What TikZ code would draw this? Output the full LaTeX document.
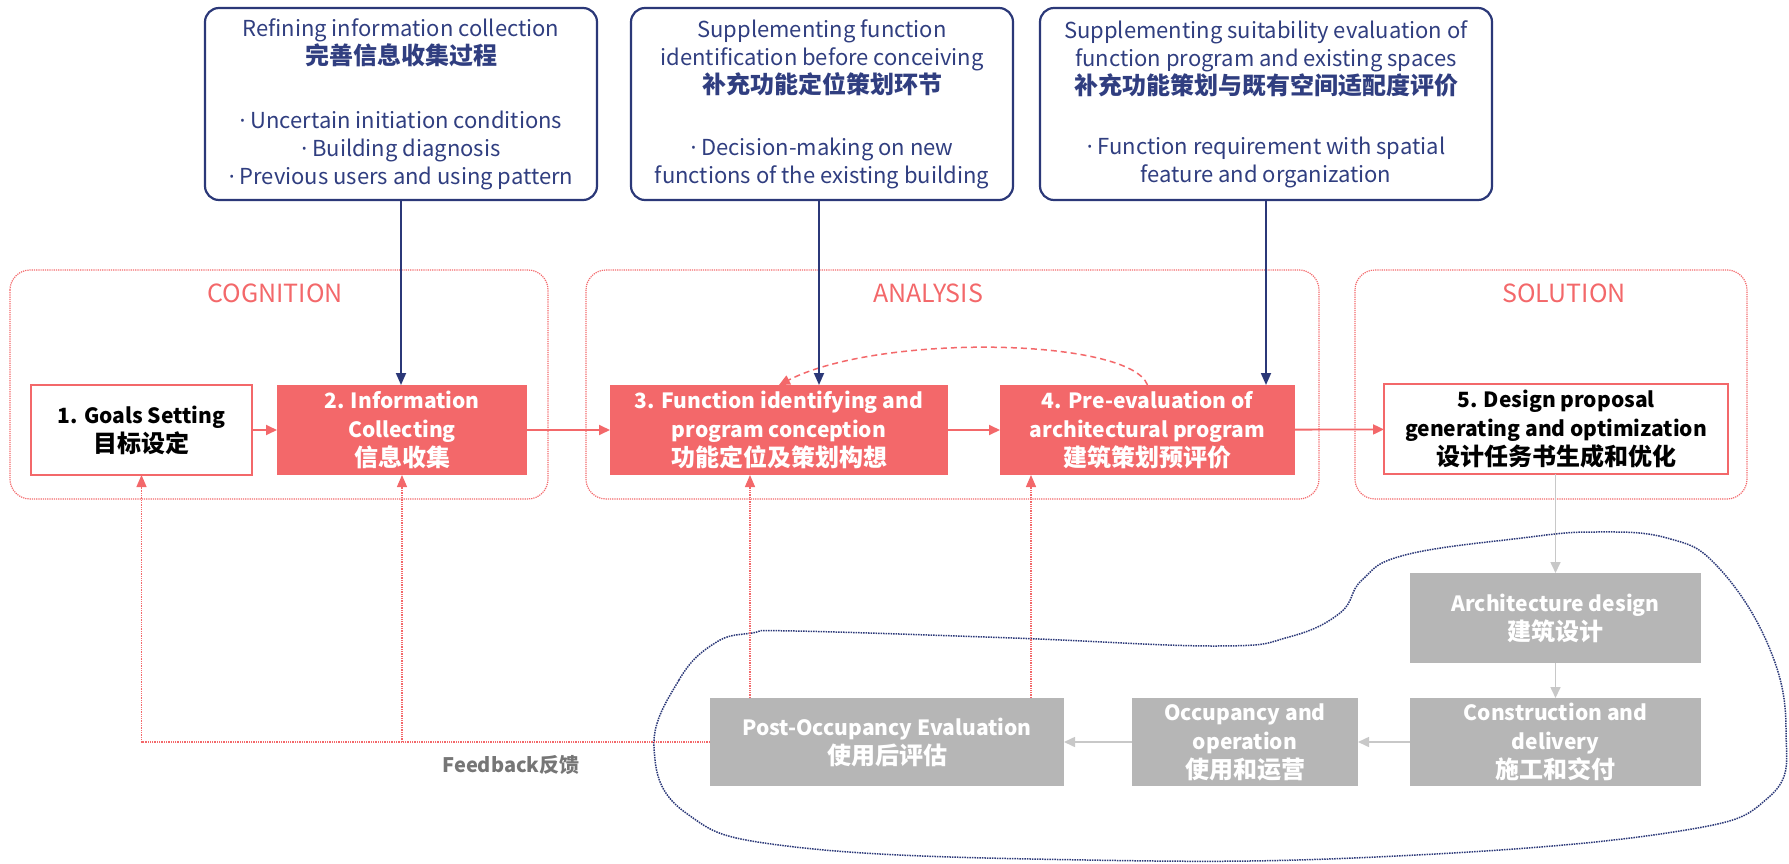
\documentclass[tikz,border=0pt]{standalone}
\usepackage{fontspec}
\setmainfont{Noto Sans CJK SC}
\newfontfamily\latinfont{Noto Sans}
\usetikzlibrary{arrows.meta}

\definecolor{coral}{RGB}{243,104,106}
\definecolor{navy}{RGB}{43,56,120}
\definecolor{navytext}{RGB}{48,62,128}
\definecolor{stone}{RGB}{182,182,182}
\definecolor{stoneline}{RGB}{200,200,200}
\definecolor{labelgray}{RGB}{118,118,118}

% Chinese lines are set a little larger than the Latin ones
\newcommand{\hanzi}[1]{{\fontsize{24}{28}\selectfont #1}}
% narrow list dot followed by a word space
\newcommand{\ldot}{{\latinfont ·}\ }

\begin{document}
\begin{tikzpicture}[x=1pt,y=-1pt,
  every node/.style={inner sep=0pt, outer sep=0pt},
  topbox/.style={draw=navy, line width=2.2pt, rounded corners=14pt, fill=white,
    text=navytext, align=center, font=\fontsize{22}{28}\selectfont},
  stagebox/.style={draw=coral, line width=1.2pt, densely dotted, rounded corners=20pt},
  stagelabel/.style={text=coral, font=\fontsize{25}{28}\selectfont},
  keystep/.style={fill=coral, text=white, align=center, minimum height=90pt,
    font=\bfseries\fontsize{21}{29}\selectfont},
  openstep/.style={draw=coral, line width=1.5pt, fill=white, text=black, align=center,
    minimum height=90pt, font=\bfseries\fontsize{21}{29}\selectfont},
  laterstep/.style={fill=stone, text=white, align=center, minimum height=88pt,
    font=\bfseries\fontsize{21}{29}\selectfont},
  flow/.style={draw=coral, line width=1.8pt, -{Triangle[length=11pt,width=10pt]}},
  loopback/.style={draw=coral, line width=1.5pt, dash pattern=on 6pt off 4pt,
    -{Triangle[length=11pt,width=10pt]}},
  fback/.style={draw=coral, line width=1.3pt, densely dotted, -{Triangle[length=12pt,width=10pt]}},
  bluearrow/.style={draw=navy, line width=1.8pt, -{Triangle[length=12pt,width=10pt]}},
  grayarrow/.style={draw=stoneline, line width=1.6pt, -{Triangle[length=11pt,width=10pt]}},
  blob/.style={draw=navy, line width=1.5pt, densely dotted}
]
\useasboundingbox (0,0) rectangle (1789,864);

% stage frames
\draw[stagebox] (10,270) rectangle (548,499);
\draw[stagebox] (586,270) rectangle (1319,499);
\draw[stagebox] (1355,270) rectangle (1747,499);
\node[stagelabel] (cog) at (275,293) {COGNITION};
\node[stagelabel] (ana) at (928,293) {ANALYSIS};
\node[stagelabel] (sol) at (1564,293) {SOLUTION};

% improvement notes
\node[topbox, minimum width=392pt, minimum height=192pt] (b1) at (401,104)
  {Refining information collection\\ \hanzi{\textbf{完善信息收集过程}}\\[36pt]
   \ldot Uncertain initiation conditions\\ \ldot Building diagnosis\\ \ldot Previous users and using pattern};
\node[topbox, minimum width=382pt, minimum height=192pt] (b2) at (822,104)
  {Supplementing function\\ identification before conceiving\\ \hanzi{\textbf{补充功能定位策划环节}}\\[34pt]
   \ldot Decision-making on new\\ functions of the existing building};
\node[topbox, minimum width=452pt, minimum height=192pt] (b3) at (1266,104)
  {Supplementing suitability evaluation of\\ function program and existing spaces\\
   \hanzi{\textbf{补充功能策划与既有空间适配度评价}}\\[32pt]
   \ldot Function requirement with spatial\\ feature and organization};

% main process
\node[openstep, minimum width=221pt] (n1) at (141.5,430) {1. Goals Setting\\\hanzi{目标设定}};
\node[keystep, minimum width=250pt] (n2) at (402,430) {2. Information\\Collecting\\\hanzi{信息收集}};
\node[keystep, minimum width=338pt] (n3) at (779,430) {3. Function identifying and\\program conception\\\hanzi{功能定位及策划构想}};
\node[keystep, minimum width=295pt] (n4) at (1147.5,430) {4. Pre-evaluation of\\architectural program\\\hanzi{建筑策划预评价}};
\node[openstep, minimum width=344pt] (n5) at (1556,429) {5. Design proposal\\generating and optimization\\\hanzi{设计任务书生成和优化}};

\draw[flow] (n1) -- (n2);
\draw[flow] (n2) -- (n3);
\draw[flow] (n3) -- (n4);
\draw[flow] (n4) -- (n5);
\draw[loopback] (n4.north) .. controls (1130,338) and (880,333) .. (n3.north);

\draw[bluearrow] (b1.south) -- (b1.south |- n2.north);
\draw[bluearrow] ([xshift=-3pt]b2.south) -- ([xshift=-3pt]b2.south |- n3.north);
\draw[bluearrow] (b3.south) -- (b3.south |- n4.north);

% later stages
\draw[blob] plot[smooth cycle, tension=0.7] coordinates {
  (654,747) (679,680) (715,643) (752,633) (795,631) (1013,638) (1217,646)
  (1289,637) (1340,613) (1362,580) (1405,555) (1522,538) (1594,532) (1667,538)
  (1718,567) (1769,647) (1786,730) (1769,797) (1667,833) (1376,857) (1086,860)
  (795,847) (686,813)};

\node[laterstep, minimum width=291pt, minimum height=90pt] (arch) at (1555.5,618) {Architecture design\\\hanzi{建筑设计}};
\node[laterstep, minimum width=291pt] (build) at (1555.5,742) {Construction and\\delivery\\\hanzi{施工和交付}};
\node[laterstep, minimum width=226pt] (use) at (1245,742) {Occupancy and\\operation\\\hanzi{使用和运营}};
\node[laterstep, minimum width=354pt] (poe) at (887,742) {Post-Occupancy Evaluation\\\hanzi{使用后评估}};

\draw[grayarrow] (n5.south -| arch.north) -- (arch.north);
\draw[grayarrow] (arch) -- (build);
\draw[grayarrow] (build) -- (use);
\draw[grayarrow] (use) -- (poe);

% feedback loops
\draw[fback] (poe.west) -| (n1.south);
\draw[fback] (poe.west -| n2.south) -- (n2.south);
\draw[fback] ([xshift=40pt]poe.north west) -- ([xshift=40pt]poe.north west |- n3.south);
\draw[fback] ([xshift=-33pt]poe.north east) -- ([xshift=-33pt]poe.north east |- n4.south);
\node[text=labelgray, font=\bfseries\fontsize{20}{24}\selectfont] (fb) at (511,765) {Feedback反馈};

\end{tikzpicture}
\end{document}
